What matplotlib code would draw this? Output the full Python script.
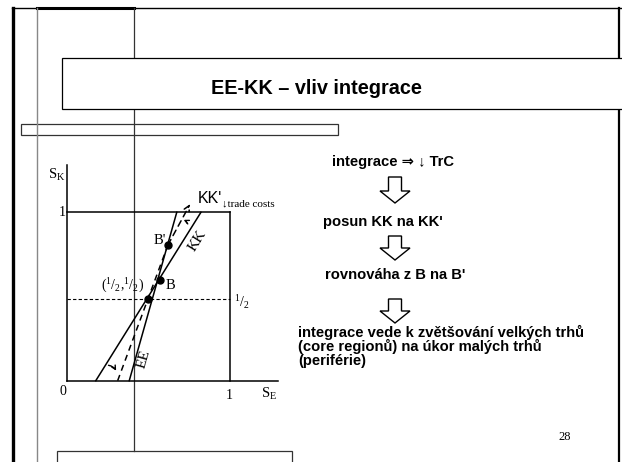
import matplotlib
matplotlib.use("Agg")
import matplotlib.pyplot as plt
from matplotlib.patches import Rectangle, Polygon, FancyArrowPatch

plt.rcParams["mathtext.default"] = "regular"
plt.rcParams["mathtext.fontset"] = "stix"

W, H = 622, 462
SERIF = ["Liberation Serif", "DejaVu Serif"]
SANS = ["Liberation Sans", "DejaVu Sans"]

# diagram lines in (S_E, S_K) units, the box is the unit square
kk_x = [0.178, 0.822]
kk_y = [0.0, 1.0]
ee_x = [0.383, 0.674]
ee_y = [0.0, 1.0]
kk_new_x = [0.312, 0.620, 0.756]      # KK' (dashed), ends in an arrow
kk_new_y = [0.0, 0.806, 1.049]
half = 0.483
pt_x = [0.496, 0.573, 0.620]          # (1/2,1/2), B, B'
pt_y = [0.483, 0.596, 0.806]

# slide text
title = "EE-KK – vliv integrace"
steps = ["integrace ⇒ ↓ TrC", "posun KK na KK'", "rovnováha z B na B'"]
conclusion = ["integrace vede k zvětšování velkých trhů",
              "(core regionů) na úkor malých trhů",
              "(periférie)"]
page = "28"


def hollow_arrow(axis, cx, top, bottom, shaft=6.5, head=15, head_h=12):
    pts = [(cx - shaft, top), (cx + shaft, top), (cx + shaft, bottom - head_h),
           (cx + head, bottom - head_h), (cx, bottom), (cx - head, bottom - head_h),
           (cx - shaft, bottom - head_h)]
    axis.add_patch(Polygon(pts, closed=True, fc="white", ec="black", lw=1.0))


fig = plt.figure(figsize=(W / 100, H / 100), dpi=100)
bg = fig.add_axes([0, 0, 1, 1])
bg.set_xlim(0, W); bg.set_ylim(H, 0); bg.axis("off")

# slide frame
bg.plot([13, 13], [8, H], color="black", lw=2.4)
bg.plot([12, W], [8, 8], color="black", lw=1.0)
bg.plot([36.5, 133.7], [8, 8], color="black", lw=2.2)
bg.plot([36.5, 36.5], [8, H], color="#888888", lw=1.0)
bg.plot([133.7, 133.7], [8, 450.7], color="#333333", lw=0.9)
bg.plot([619, 619], [8, H], color="black", lw=1.6)
bg.add_patch(Rectangle((62, 58), 562, 51, fc="white", ec="black", lw=0.9, zorder=3))
bg.add_patch(Rectangle((21.4, 124), 316.3, 11, fill=False, ec="#333333", lw=0.9))
bg.add_patch(Rectangle((57.3, 450.7), 234.4, 20, fc="white", ec="#333333", lw=0.9))
bg.text(316, 88, title, ha="center", va="center", fontsize=14.3,
        fontweight="bold", family=SANS, zorder=4)

# right-hand argument
bg.text(393.5, 162, steps[0], ha="center", va="center", fontsize=10.6,
        fontweight="bold", family=SANS)
hollow_arrow(bg, 395, 177, 203)
bg.text(383, 222, steps[1], ha="center", va="center", fontsize=10.6,
        fontweight="bold", family=SANS)
hollow_arrow(bg, 395, 236, 260)
bg.text(325, 275, steps[2], ha="left", va="center", fontsize=10.6,
        fontweight="bold", family=SANS)
hollow_arrow(bg, 395, 299, 323)
for i, line in enumerate(conclusion):
    bg.text(298, 332 + 14.5 * i, line, ha="left", va="center", fontsize=10.6,
            fontweight="bold", family=SANS)
bg.text(565, 437, page, ha="center", va="center", fontsize=9, family=SERIF)

# EE-KK diagram
ax = fig.add_axes([66.7 / W, (H - 380.7) / H, 163.3 / W, 168.4 / H])
ax.set_xlim(0, 1); ax.set_ylim(0, 1); ax.axis("off")
lk = dict(color="black", lw=1.1, clip_on=False)
ax.plot([0, 1.296], [0, 0], **lk)
ax.plot([0, 0], [0, 1.281], **lk)
ax.plot([0, 1], [1, 1], **lk)
ax.plot([1, 1], [0, 1], **lk)
ax.plot([0, 1], [half, half], color="black", lw=0.8, ls=(0, (3, 2)), clip_on=False)

ax.plot(kk_x, kk_y, **lk)
ax.plot(ee_x, ee_y, **lk)
ax.plot(kk_new_x[:-1], kk_new_y[:-1], color="black", lw=1.1, ls=(0, (4, 3)), clip_on=False)
ax.annotate("", xy=(kk_new_x[-1], kk_new_y[-1]), xytext=(kk_new_x[-2], kk_new_y[-2]),
            arrowprops=dict(arrowstyle="->", lw=1.1, ls=(0, (4, 3)),
                            shrinkA=0, shrinkB=0), annotation_clip=False)
ax.plot(pt_x, pt_y, "o", color="black", ms=5, clip_on=False)

# rotation arrows KK -> KK'
ax.add_patch(FancyArrowPatch((0.239, 0.093), (0.310, 0.044), arrowstyle="->",
                             connectionstyle="arc3,rad=-0.35", mutation_scale=7,
                             lw=1.0, color="black", clip_on=False))
ax.add_patch(FancyArrowPatch((0.743, 0.919), (0.700, 0.960), arrowstyle="->",
                             connectionstyle="arc3,rad=0.35", mutation_scale=7,
                             lw=1.0, color="black", clip_on=False))

tk = dict(family=SERIF, ha="center", va="center", clip_on=False)
ax.text(-0.064, 1.222, "S$_K$", fontsize=10.5, **tk)
ax.text(-0.03, 1.0, "1", fontsize=10, **tk)
ax.text(-0.02, -0.067, "0", fontsize=10, **tk)
ax.text(0.994, -0.085, "1", fontsize=10, **tk)
ax.text(1.24, -0.08, "S$_E$", fontsize=10.5, **tk)
ax.text(1.074, 0.47, "$^1/_2$", fontsize=10, **tk)
ax.text(0.345, 0.562, "($^1/_2$,$^1/_2$)", fontsize=10, **tk)
ax.text(0.636, 0.565, "B", fontsize=10.5, **tk)
ax.text(0.571, 0.83, "B'", fontsize=10.5, **tk)
ax.text(0.80, 0.83, "KK", fontsize=11, rotation=58, **tk)
ax.text(0.472, 0.13, "EE", fontsize=11, rotation=74, **tk)
ax.text(0.805, 1.084, "KK'", fontsize=11.5, family=SANS, ha="left", va="center",
        clip_on=False)
ax.text(0.952, 1.049, "↓trade costs", fontsize=8, family=SERIF, ha="left",
        va="center", clip_on=False)

fig.savefig("out.png", dpi=100)
